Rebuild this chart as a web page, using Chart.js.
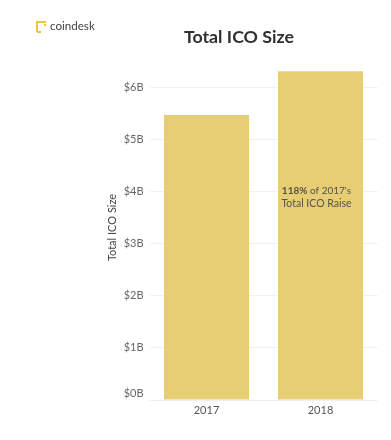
<!DOCTYPE html>
<html>
	<head>
		<title>Total ICO Size</title>
		<script src="https://cdn.jsdelivr.net/npm/chart.js@4"></script>
		<style>
			html, body { margin: 0; padding: 0; background: #fff; }
			#wrap { position: relative; width: 391px; height: 440px; overflow: hidden; font-family: Lato, sans-serif; }
			#myChart { position: absolute; left: 0; top: 0; }
			#title { position: absolute; left: 139px; width: 200px; top: 25px; text-align: center; font-size: 17.8px; font-weight: 700; color: #2f3033; }
			#brand { position: absolute; left: 50px; top: 19px; font-size: 11.6px; color: #3d3f45; }
			#logo { position: absolute; left: 36px; top: 21px; }
		</style>
	</head>
	<body>
		<div id="wrap">
			<canvas id="myChart" width="391" height="440"></canvas>
			<svg id="logo" width="11" height="12">
				<path d="M1 11V1H10M1 11H5M8 4H10" fill="none" stroke="#ecc63a" stroke-width="2"/>
			</svg>
			<div id="brand">coindesk</div>
			<div id="title">Total ICO Size</div>
		</div>
		<script>
			const categories = ["2017", "2018"];
			const values = [5.47, 6.31];
			const tickValues = [0, 1, 2, 3, 4, 5, 6];
			const axisTitle = "Total ICO Size";
			const noteBold = "118%";
			const noteLines = [" of 2017's", "Total ICO Raise"];

			// napis na drugim slupku
			const notePlugin = {
				id: "note",
				afterDatasetsDraw(chart) {
					const ctx = chart.ctx;
					const x = chart.scales.x.getPixelForValue(1) - 4;
					const y = chart.scales.y.getPixelForValue(4);
					ctx.save();
					ctx.fillStyle = "#55534a";
					ctx.textBaseline = "middle";
					ctx.font = "700 10px Lato";
					const boldW = ctx.measureText(noteBold).width;
					ctx.font = "400 10px Lato";
					const restW = ctx.measureText(noteLines[0]).width;
					const start = x - (boldW + restW) / 2;
					ctx.textAlign = "left";
					ctx.font = "700 10px Lato";
					ctx.fillText(noteBold, start, y - 0.5);
					ctx.font = "400 10px Lato";
					ctx.fillText(noteLines[0], start + boldW, y - 0.5);
					ctx.textAlign = "center";
					ctx.font = "400 10.5px Lato";
					ctx.fillText(noteLines[1], x, y + 12.5);
					ctx.restore();
				}
			};

			new Chart(document.getElementById("myChart").getContext("2d"), {
				type: "bar",
				plugins: [notePlugin],
				data: {
					labels: categories,
					datasets: [{
						data: values,
						backgroundColor: "#e7ce74",
						categoryPercentage: 1,
						barPercentage: 0.746
					}]
				},
				options: {
					responsive: false,
					animation: false,
					layout: { padding: { left: 106, right: 13.5, top: 55, bottom: 0 } },
					plugins: { legend: { display: false }, tooltip: { enabled: false } },
					scales: {
						x: {
							grid: { display: false },
							border: { color: "#f0f0f0" },
							ticks: { color: "#555", font: { family: "Lato", size: 11 }, padding: -4 },
							afterFit(scale) { scale.height = 40; }
						},
						y: {
							min: 0,
							max: 6.62,
							grid: { color: "#f1f1f1", drawTicks: false },
							border: { display: false },
							title: { display: true, text: axisTitle, color: "#444", font: { family: "Lato", size: 11 }, padding: 0 },
							ticks: {
								color: "#666",
								padding: 6,
								font: { family: "Lato", size: 11 },
								// etykieta $0B siedzi wyzej niz linia zera
								callback: v => v === 0 ? ["$0B", ""] : "$" + v + "B"
							},
							afterBuildTicks(scale) { scale.ticks = tickValues.map(v => ({ value: v })); },
							afterFit(scale) { scale.width = 43.5; }
						}
					}
				}
			});
		</script>
	</body>
</html>
